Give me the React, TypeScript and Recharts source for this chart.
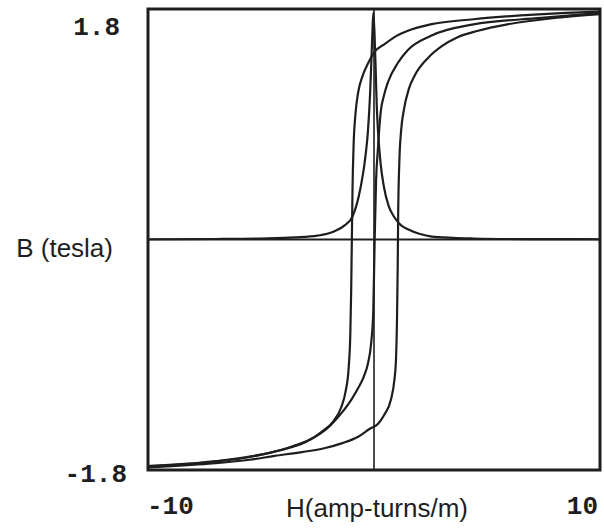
import { LineChart, Line, XAxis, YAxis, ReferenceLine, ReferenceArea, Label } from "recharts";

// axis ranges and tick labels
const H_DOMAIN = [-10, 10];
const B_DOMAIN = [-1.8, 1.8];
const H_TICKS = [-10, 10];
const B_TICKS = [-1.8, 1.8];

// [H, B], ordered by H
const descendingBranch: [number, number][] = [
  [-10, -1.77], [-8, -1.75], [-6.5, -1.72], [-5, -1.68], [-3.8, -1.63], [-3.0, -1.58],
  [-2.3, -1.5], [-1.8, -1.42], [-1.45, -1.31], [-1.25, -1.18], [-1.12, -1.0], [-1.05, -0.75],
  [-1.01, -0.4], [-0.98, 0.0], [-0.95, 0.4], [-0.9, 0.75], [-0.82, 0.98], [-0.7, 1.15],
  [-0.5, 1.28], [-0.25, 1.38], [0, 1.46], [0.5, 1.53], [1.0, 1.59], [1.5, 1.63],
  [2.5, 1.68], [4.4, 1.72], [6.5, 1.75], [8.5, 1.77], [10, 1.78],
];

const ascendingBranch: [number, number][] = [
  [-10, -1.78], [-7.3, -1.75], [-5.5, -1.72], [-4.4, -1.69], [-3.2, -1.66], [-2.2, -1.63],
  [-1.4, -1.59], [-0.7, -1.54], [-0.2, -1.48], [0.17, -1.44], [0.45, -1.37], [0.75, -1.25],
  [0.9, -1.1], [0.97, -0.95], [1.02, -0.6], [1.05, -0.2], [1.07, 0.2], [1.12, 0.6],
  [1.2, 0.85], [1.33, 1.02], [1.55, 1.18], [1.8, 1.28], [2.4, 1.42], [3.0, 1.51],
  [3.7, 1.58], [4.6, 1.63], [5.9, 1.68], [8, 1.73], [10, 1.76],
];

const normalCurve: [number, number][] = [
  [-10, -1.77], [-7.5, -1.74], [-5.9, -1.71], [-4.5, -1.66], [-3.7, -1.62], [-2.8, -1.56],
  [-2.1, -1.48], [-1.46, -1.36], [-1.0, -1.25], [-0.7, -1.16], [-0.45, -1.07], [-0.27, -0.97],
  [-0.12, -0.8], [-0.03, -0.55], [0.03, 0.0], [0.09, 0.45], [0.17, 0.7], [0.3, 1.0],
  [0.45, 1.13], [0.62, 1.23], [1.06, 1.38], [1.5, 1.48], [2.5, 1.59], [4.4, 1.68],
  [7.4, 1.73], [10, 1.77],
];

const permeability: [number, number][] = [
  [-10, 0.002], [-7, 0.004], [-5, 0.008], [-3.5, 0.016], [-2.5, 0.03], [-1.8, 0.06],
  [-1.3, 0.11], [-0.95, 0.18], [-0.6, 0.4], [-0.4, 0.62], [-0.27, 0.84], [-0.17, 1.15],
  [-0.12, 1.38], [-0.07, 1.62], [-0.03, 1.77], [0.02, 1.62], [0.07, 1.35], [0.12, 1.05],
  [0.18, 0.84], [0.3, 0.58], [0.44, 0.41], [0.65, 0.26], [0.88, 0.18], [1.2, 0.11],
  [1.5, 0.08], [2.0, 0.045], [2.5, 0.025], [3.5, 0.013], [4.4, 0.008], [6, 0.004],
  [8, 0.003], [10, 0.002],
];

const toPoints = (pairs: [number, number][]) => pairs.map(([h, b]) => ({ h, b }));

const INK = "#1e1e1e";
const MONO = { fontFamily: "'Liberation Mono', monospace", fontSize: 26, fontWeight: 700, fill: INK };
const SANS = { fontFamily: "'Liberation Sans', Arial, sans-serif", fontSize: 26, fill: INK };

function HTick({ x, y, payload }: any) {
  const left = payload.value < 0;
  return (
    <text x={left ? x - 1 : x + 2} y={y + 37} textAnchor={left ? "start" : "end"} dominantBaseline="central" style={MONO}>
      {payload.value}
    </text>
  );
}

function BTick({ x, y, payload }: any) {
  const top = payload.value > 0;
  return (
    <text x={top ? x - 28 : x - 21} y={y + (top ? 19 : 5)} textAnchor="end" dominantBaseline="central" style={MONO}>
      {payload.value}
    </text>
  );
}

const series = [
  { key: "desc", data: descendingBranch },
  { key: "asc", data: ascendingBranch },
  { key: "normal", data: normalCurve },
  { key: "mu", data: permeability },
];

export default function App() {
  return (
    <div style={{ position: "fixed", left: 0, top: 0, width: 604, height: 529, background: "#fff" }}>
      <LineChart width={604} height={529} margin={{ top: 9, right: 4, left: 147, bottom: 58 }}>
        <XAxis
          type="number" dataKey="h" domain={H_DOMAIN} ticks={H_TICKS} allowDataOverflow
          height={1} axisLine={false} tickLine={false} tickSize={0} tickMargin={0} tick={<HTick />}
        >
          <Label
            content={({ viewBox }: any) => (
              <text x={viewBox.x + viewBox.width / 2 + 3} y={viewBox.y + 38} textAnchor="middle" dominantBaseline="central" style={SANS}>
                H(amp-turns/m)
              </text>
            )}
          />
        </XAxis>
        <YAxis
          type="number" dataKey="b" domain={B_DOMAIN} ticks={B_TICKS} allowDataOverflow
          width={1} axisLine={false} tickLine={false} tickSize={0} tickMargin={0} tick={<BTick />}
        >
          <Label
            content={({ viewBox }: any) => (
              <text x={viewBox.x - 34} y={viewBox.y + viewBox.height / 2 + 8} textAnchor="end" dominantBaseline="central" style={SANS}>
                B (tesla)
              </text>
            )}
          />
        </YAxis>
        <ReferenceArea x1={-10} x2={10} y1={-1.8} y2={1.8} fill="none" stroke={INK} strokeWidth={3} />
        <ReferenceLine x={0} stroke={INK} strokeWidth={1.6} />
        <ReferenceLine y={0} stroke={INK} strokeWidth={1.8} />
        {series.map((s) => (
          <Line
            key={s.key} data={toPoints(s.data)} dataKey="b" type="monotone"
            stroke={INK} strokeWidth={2.2} dot={false} isAnimationActive={false}
          />
        ))}
      </LineChart>
    </div>
  );
}
